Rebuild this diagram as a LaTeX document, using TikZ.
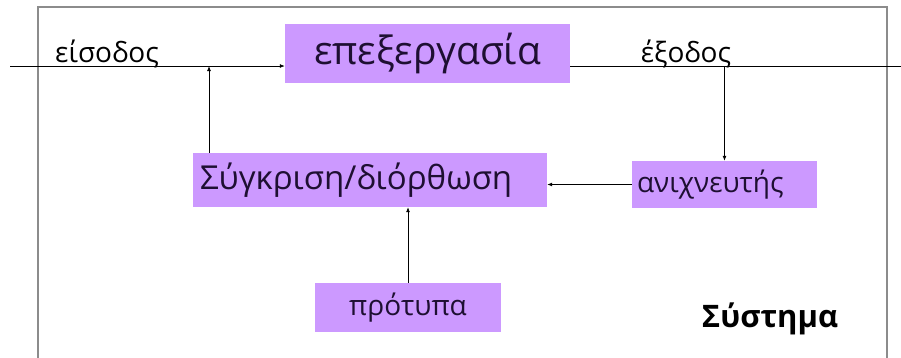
\documentclass[tikz,border=0pt]{standalone}
\usepackage{fontspec}
\setmainfont{Open Sans}
\usepackage{tikz}
\usetikzlibrary{arrows.meta,positioning,calc}
\definecolor{boxfill}{RGB}{204,153,255}
\definecolor{boxtext}{RGB}{30,15,50}
\definecolor{framegray}{RGB}{140,140,140}

\begin{document}
\begin{tikzpicture}[x=1pt,y=-1pt,
  block/.style={fill=boxfill,text=boxtext,inner sep=0pt,anchor=center},
  flow/.style={draw=black,line width=0.8pt,-{Latex[length=5pt,width=4pt]}},
  plain/.style={draw=black,line width=0.8pt},
  lbl/.style={anchor=base,text=black,inner sep=0pt}]
\useasboundingbox (0,0) rectangle (901,357);
\fill[white] (0,0) rectangle (901,357);
\clip (0,0) rectangle (901,357);
% system frame, open at the bottom
\draw[framegray,line width=1.5pt] (38,375) -- (38,7) -- (887,7) -- (887,375);
% blocks
\node[block,minimum width=285,minimum height=59,font=\fontsize{39}{42}\selectfont] (proc) at (427.5,53.5) {επεξεργασία};
\node[block,minimum width=354,minimum height=54,font=\fontsize{33}{36}\selectfont,text width=340,align=left] (comp) at (370,180) {Σύγκριση/διόρθωση};
\node[block,minimum width=185,minimum height=47,font=\fontsize{28}{30}\selectfont,text width=175,align=left] (det) at (724.5,184.5) {ανιχνευτής};
\node[block,minimum width=186,minimum height=49,font=\fontsize{28}{30}\selectfont] (model) at (408,307.5) {πρότυπα};
% labels
\node[lbl,font=\fontsize{28}{30}\selectfont] (inlbl) at (107,62) {είσοδος};
\node[lbl,font=\fontsize{28}{30}\selectfont] (outlbl) at (686,62) {έξοδος};
\node[lbl,font=\bfseries\fontsize{31}{34}\selectfont] (sys) at (770,327) {Σύστημα};
% signal line
\coordinate (in) at (10,66);
\coordinate (out) at (901,66);
\coordinate (join) at (209,66);
\coordinate (tap) at (det.north |- in);
\draw[flow] (in) -- (in -| proc.west);
\draw[plain] (proc.east |- out) -- (out);
\draw[flow] (tap) -- (det.north);
\draw[flow] (det.west) -- (det.west -| comp.east);
\draw[flow] (join |- comp.north) -- (join);
\draw[flow] (model.north) -- (model.north |- comp.south);
\end{tikzpicture}
\end{document}
